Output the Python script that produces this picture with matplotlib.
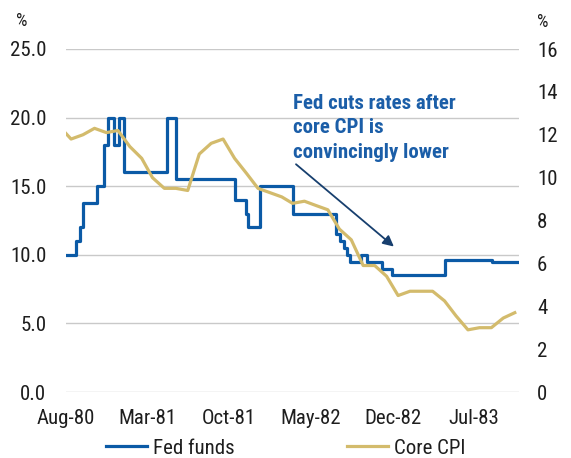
import matplotlib
matplotlib.use("Agg")
import matplotlib.pyplot as plt
import matplotlib.dates as mdates
from matplotlib import font_manager
import pandas as pd

# ---------------- data ----------------
ff_dates = ["1980-08-01", "1980-08-27", "1980-09-08", "1980-09-15", "1980-10-21",
            "1980-11-08", "1980-11-18", "1980-12-06", "1980-12-19", "1980-12-31",
            "1981-04-22", "1981-05-15", "1981-10-16", "1981-11-13", "1981-11-18",
            "1981-12-19", "1982-03-15", "1982-07-05", "1982-07-17", "1982-07-26",
            "1982-08-04", "1982-08-12", "1982-09-09", "1982-09-26", "1982-11-03",
            "1982-11-30", "1983-04-15", "1983-08-16", "1983-10-31"]
ff_values = [10.0, 11.0, 12.0, 13.75, 15.0,
             18.0, 20.0, 18.0, 20.0, 16.0,
             20.0, 15.5, 14.0, 13.0, 12.0,
             15.0, 13.0, 11.5, 11.0, 10.5,
             10.0, 9.5, 10.0, 9.5, 9.0,
             8.5, 9.6, 9.5, 9.5]

cpi_months = ["1980-07", "1980-08", "1980-09", "1980-10", "1980-11", "1980-12",
              "1981-01", "1981-02", "1981-03", "1981-04", "1981-05", "1981-06",
              "1981-07", "1981-08", "1981-09", "1981-10", "1981-11", "1981-12",
              "1982-01", "1982-02", "1982-03", "1982-04", "1982-05", "1982-06",
              "1982-07", "1982-08", "1982-09", "1982-10", "1982-11", "1982-12",
              "1983-01", "1983-02", "1983-03", "1983-04", "1983-05", "1983-06",
              "1983-07", "1983-08", "1983-09", "1983-10"]
cpi_values = [12.4, 11.8, 12.0, 12.3, 12.1, 12.2,
              11.45, 10.9, 10.0, 9.5, 9.5, 9.4,
              11.1, 11.6, 11.8, 10.9, 10.2, 9.5,
              9.3, 9.1, 8.8, 8.9, 8.7, 8.5,
              7.6, 7.1, 5.9, 5.9, 5.4, 4.5,
              4.7, 4.7, 4.7, 4.25, 3.55, 2.9,
              3.0, 3.0, 3.45, 3.7]

tick_dates = ["1980-08-01", "1981-03-01", "1981-10-01", "1982-05-01", "1982-12-01", "1983-07-01"]
tick_labels = ["Aug-80", "Mar-81", "Oct-81", "May-82", "Dec-82", "Jul-83"]

left_ticks = [0, 5, 10, 15, 20, 25]
right_ticks = [0, 2, 4, 6, 8, 10, 12, 14, 16]

series_names = ["Fed funds", "Core CPI"]
annotation = "Fed cuts rates after\ncore CPI is\nconvincingly lower"

# ---------------- style ----------------
avail = {f.name for f in font_manager.fontManager.ttflist}
fam = "Roboto Condensed" if "Roboto Condensed" in avail else "Roboto"
plt.rcParams["font.family"] = [fam, "DejaVu Sans"]

BLUE = "#0B5AA6"
GOLD = "#D3BB6C"
TXT_BLUE = "#1B5EA8"
ARROW = "#173F6E"
GRID = "#C9C9C9"
TXT = "#1E1E1E"
FS = 15

fig = plt.figure(figsize=(5.71, 4.58), dpi=100)
W, H = 571, 458
ax = fig.add_axes([65.7 / W, 1 - 392 / H, (519 - 65.7) / W, (392 - 49) / H])
ax2 = ax.twinx()

ffd = pd.to_datetime(ff_dates)
cpid = pd.to_datetime(cpi_months) + pd.Timedelta(days=14)

l1, = ax.step(ffd, ff_values, where="post", color=BLUE, lw=2.3, zorder=3)
l2, = ax2.plot(cpid, cpi_values, color=GOLD, lw=2.3, zorder=3)

ax.set_xlim(pd.Timestamp("1980-08-01"), pd.Timestamp("1983-10-26"))
ax.set_ylim(0, 25)
ax2.set_ylim(0, 16)

ax.set_yticks(left_ticks)
ax.set_yticklabels([f"{v:.1f}" for v in left_ticks])
ax2.set_yticks(right_ticks)
ax2.set_yticklabels([str(v) for v in right_ticks])
ax.set_xticks(pd.to_datetime(tick_dates))
ax.set_xticklabels(tick_labels)

ax.grid(axis="y", color=GRID, lw=1.0)
ax.set_axisbelow(True)
for a in (ax, ax2):
    for s in a.spines.values():
        s.set_visible(False)
ax.tick_params(axis="both", length=0, labelsize=FS, colors=TXT)
ax.tick_params(axis="y", pad=14)
ax.tick_params(axis="x", pad=12)
ax2.tick_params(axis="y", length=0, labelsize=FS, colors=TXT, pad=13)

fig.text(22 / W, 1 - 21 / H, "%", fontsize=13, color=TXT, ha="center", va="center")
fig.text(543 / W, 1 - 22 / H, "%", fontsize=13, color=TXT, ha="center", va="center")

# annotation
ax.text(pd.Timestamp("1982-03-17"), 21.75, annotation, fontsize=FS, fontweight="bold",
        color=TXT_BLUE, ha="left", va="top", linespacing=1.38, zorder=5)
ax.annotate("", xy=(pd.Timestamp("1982-12-04"), 10.6), xytext=(pd.Timestamp("1982-03-24"), 16.6),
            arrowprops=dict(arrowstyle="-|>", color=ARROW, lw=1.3, mutation_scale=16,
                            shrinkA=0, shrinkB=0), zorder=5)

fig.legend([l1, l2], series_names, loc="center", bbox_to_anchor=(0.5, 1 - 448 / H), ncol=2,
           frameon=False, fontsize=FS, handlelength=2.0, handletextpad=0.25,
           columnspacing=5.4, labelcolor=TXT)

fig.savefig("out.png", dpi=100)
